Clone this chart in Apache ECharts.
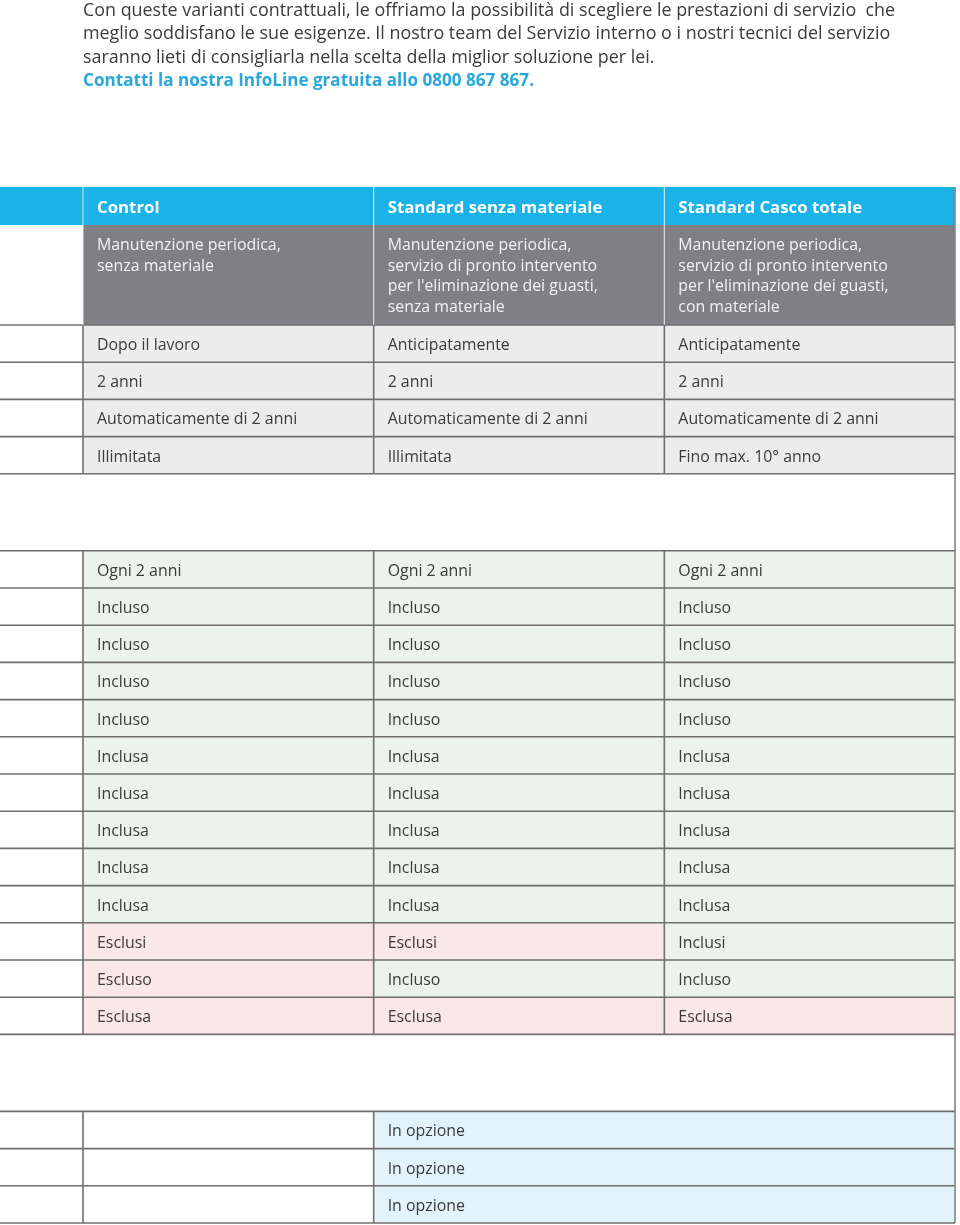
<!DOCTYPE html>
<html><head><meta charset="utf-8">
<script src="https://cdn.jsdelivr.net/npm/echarts@6/dist/echarts.min.js"></script>
<style>html,body{margin:0;padding:0;background:#fff}#c{width:960px;height:1225px}</style>
</head><body><div id="c"></div><script>
// ---------- DATA ----------
const introLines = [
  'Con queste varianti contrattuali, le offriamo la possibilità di scegliere le prestazioni di servizio  che',
  'meglio soddisfano le sue esigenze. Il nostro team del Servizio interno o i nostri tecnici del servizio',
  'saranno lieti di consigliarla nella scelta della miglior soluzione per lei.'
];
const introHighlight = 'Contatti la nostra InfoLine gratuita allo 0800 867 867.';
const planNames = ['Control', 'Standard senza materiale', 'Standard Casco totale'];
const planDescriptions = [
  'Manutenzione periodica,\nsenza materiale',
  "Manutenzione periodica,\nservizio di pronto intervento\nper l'eliminazione dei guasti,\nsenza materiale",
  "Manutenzione periodica,\nservizio di pronto intervento\nper l'eliminazione dei guasti,\ncon materiale"
];
const contractTerms = [
  ['Dopo il lavoro', 'Anticipatamente', 'Anticipatamente'],
  ['2 anni', '2 anni', '2 anni'],
  ['Automaticamente di 2 anni', 'Automaticamente di 2 anni', 'Automaticamente di 2 anni'],
  ['Illimitata', 'Illimitata', 'Fino max. 10° anno']
];
const serviceItems = [
  ['Ogni 2 anni', 'Ogni 2 anni', 'Ogni 2 anni'],
  ['Incluso', 'Incluso', 'Incluso'],
  ['Incluso', 'Incluso', 'Incluso'],
  ['Incluso', 'Incluso', 'Incluso'],
  ['Incluso', 'Incluso', 'Incluso'],
  ['Inclusa', 'Inclusa', 'Inclusa'],
  ['Inclusa', 'Inclusa', 'Inclusa'],
  ['Inclusa', 'Inclusa', 'Inclusa'],
  ['Inclusa', 'Inclusa', 'Inclusa'],
  ['Inclusa', 'Inclusa', 'Inclusa'],
  ['Esclusi', 'Esclusi', 'Inclusi'],
  ['Escluso', 'Incluso', 'Incluso'],
  ['Esclusa', 'Esclusa', 'Esclusa']
];
// options section: Control column empty, the two Standard plans share one merged cell
const optionItems = [
  ['', 'In opzione'],
  ['', 'In opzione'],
  ['', 'In opzione']
];

// ---------- LAYOUT (row heights in row units, styles) ----------
const H_HEAD = 1.02, H_DESC = 2.69, H_ROW = 1, H_GAP = 2.07;
const COL0 = -0.2855; // left label column (empty)
const FONT = '"Open Sans", "Noto Sans", sans-serif';
const C = {
  blue: '#1ab2e7', gray: '#808084', light: '#ececec', green: '#eaf3ec',
  pink: '#f9e8e7', sky: '#e3f3fb', white: '#ffffff', line: '#6f6f6f', text: '#3b3b3b'
};

const cells = [];   // [x0, x1, y0, y1, fillKey, text, styleKey]
const hLines = [];  // [x0, x1, y]
const vLines = [];  // [x, y0, y1, light]
let y = 0;

// header row
cells.push([COL0, 0, y, y + H_HEAD, 'blue', '', 'head']);
planNames.forEach((n, i) => cells.push([i, i + 1, y, y + H_HEAD, 'blue', n, 'head']));
[0, 1, 2].forEach(x => vLines.push([x, y, y + H_HEAD, true]));
y += H_HEAD;
// description row
cells.push([COL0, 0, y, y + H_DESC, 'white', '', 'desc']);
planDescriptions.forEach((d, i) => cells.push([i, i + 1, y, y + H_DESC, 'gray', d, 'desc']));
[0, 1, 2].forEach(x => vLines.push([x, y, y + H_DESC, true]));
y += H_DESC;
hLines.push([COL0, 3, y]);
// contract terms
let s = y;
contractTerms.forEach(r => {
  cells.push([COL0, 0, y, y + H_ROW, 'white', '', 'body']);
  r.forEach((t, i) => cells.push([i, i + 1, y, y + H_ROW, 'light', t, 'body']));
  y += H_ROW; hLines.push([COL0, 3, y]);
});
[0, 1, 2].forEach(x => vLines.push([x, s, y, false]));
y += H_GAP;
// service items
s = y; hLines.push([COL0, 3, y]);
serviceItems.forEach(r => {
  cells.push([COL0, 0, y, y + H_ROW, 'white', '', 'body']);
  r.forEach((t, i) => cells.push([i, i + 1, y, y + H_ROW, /^Escl/.test(t) ? 'pink' : 'green', t, 'body']));
  y += H_ROW; hLines.push([COL0, 3, y]);
});
[0, 1, 2].forEach(x => vLines.push([x, s, y, false]));
y += H_GAP;
// options
s = y; hLines.push([COL0, 3, y]);
optionItems.forEach(r => {
  cells.push([COL0, 0, y, y + H_ROW, 'white', '', 'body']);
  cells.push([0, 1, y, y + H_ROW, 'white', r[0], 'body']);
  cells.push([1, 3, y, y + H_ROW, 'sky', r[1], 'body']);
  y += H_ROW; hLines.push([COL0, 3, y]);
});
[0, 1].forEach(x => vLines.push([x, s, y, false]));
const TOTAL = y;
vLines.push([3, 0, TOTAL, false]);

const textStyles = {
  head: { fontSize: 16.8, fontWeight: 'bold', fill: '#ffffff', top: false, dy: 2.5 },
  desc: { fontSize: 15.9, fontWeight: 'normal', fill: '#f2f2f2', top: true, lineHeight: 20.6, dy: 10.5 },
  body: { fontSize: 15.9, fontWeight: 'normal', fill: C.text, top: false, dy: 1.8 }
};

const chart = echarts.init(document.getElementById('c'), null, { renderer: 'canvas' });
chart.setOption({
  animation: false,
  backgroundColor: '#fff',
  grid: { left: 0, width: 955, top: 187, height: 1036 },
  xAxis: { type: 'value', min: COL0, max: 3, show: false },
  yAxis: { type: 'value', min: 0, max: TOTAL, inverse: true, show: false },
  graphic: [
    { type: 'text', left: 83, top: -1,
      style: { text: introLines.join('\n'), font: 'normal 17.9px ' + FONT, fill: C.text, lineHeight: 23.5 } },
    { type: 'text', left: 83, top: 69,
      style: { text: introHighlight, font: 'bold 17.1px ' + FONT, fill: '#2aa7dc', lineHeight: 23.5 } }
  ],
  series: [
    {
      type: 'custom', coordinateSystem: 'cartesian2d', clip: false,
      encode: { x: [0, 1], y: [2, 3] },
      data: cells.map(c => c.slice(0, 4)),
      renderItem: (params, api) => {
        const c = cells[params.dataIndex];
        const p0 = api.coord([c[0], c[2]]);
        const p1 = api.coord([c[1], c[3]]);
        const ts = textStyles[c[6]];
        const children = [{
          type: 'rect', shape: { x: p0[0], y: p0[1], width: p1[0] - p0[0], height: p1[1] - p0[1] },
          style: { fill: C[c[4]] }
        }];
        if (c[5]) {
          children.push({
            type: 'text',
            style: {
              text: c[5], x: p0[0] + 14, y: (ts.top ? p0[1] : (p0[1] + p1[1]) / 2) + ts.dy,
              fill: ts.fill, fontSize: ts.fontSize, fontWeight: ts.fontWeight, fontFamily: FONT,
              lineHeight: ts.lineHeight || ts.fontSize * 1.2,
              align: 'left', verticalAlign: ts.top ? 'top' : 'middle'
            }
          });
        }
        return { type: 'group', children };
      },
      z: 1
    },
    {
      type: 'custom', coordinateSystem: 'cartesian2d', clip: false,
      data: hLines.map(l => [l[0], l[1], l[2]]),
      renderItem: (params, api) => {
        const l = hLines[params.dataIndex];
        const a = api.coord([l[0], l[2]]), b = api.coord([l[1], l[2]]);
        return { type: 'line', shape: { x1: a[0], y1: a[1], x2: b[0], y2: b[1] },
          style: { stroke: C.line, lineWidth: 1.6 } };
      },
      z: 2
    },
    {
      type: 'custom', coordinateSystem: 'cartesian2d', clip: false,
      data: vLines.map(l => [l[0], l[1], l[2]]),
      renderItem: (params, api) => {
        const l = vLines[params.dataIndex];
        const a = api.coord([l[0], l[1]]), b = api.coord([l[0], l[2]]);
        return { type: 'line', shape: { x1: a[0], y1: a[1], x2: b[0], y2: b[1] },
          style: { stroke: l[3] ? 'rgba(255,255,255,0.65)' : (l[0] === 3 ? '#858585' : C.line), lineWidth: l[3] ? 1.2 : 1.6 } };
      },
      z: 3
    }
  ]
});
</script></body></html>
